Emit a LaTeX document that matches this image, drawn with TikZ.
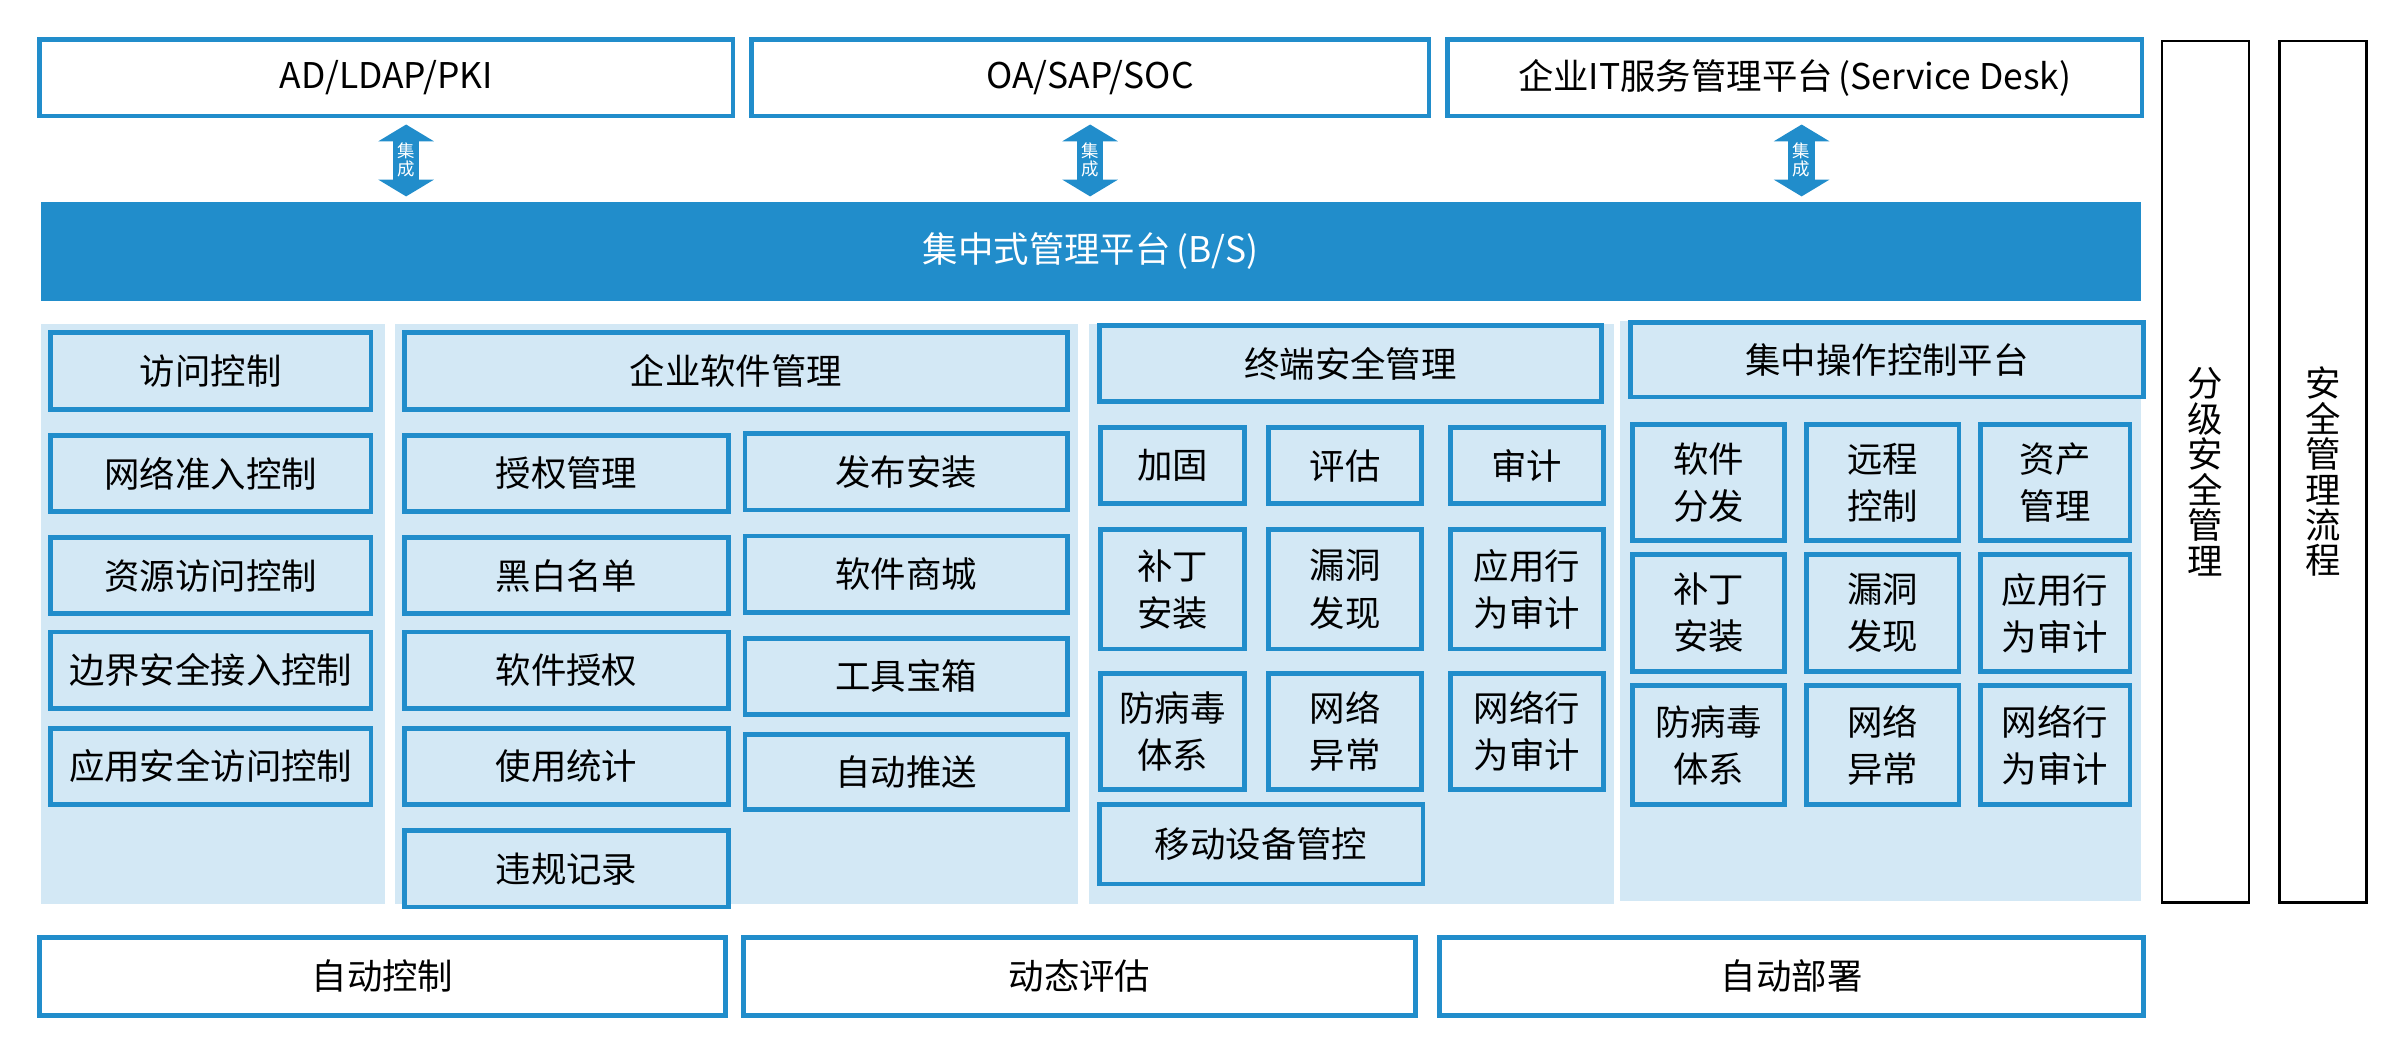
\documentclass[tikz,border=0pt]{standalone}
\usepackage{fontspec}
\setmainfont{Noto Sans CJK SC}
\usetikzlibrary{arrows.meta}
\definecolor{bsblue}{RGB}{33,141,203}
\definecolor{bspale}{RGB}{211,232,245}

\begin{document}
\begin{tikzpicture}[x=0.02cm, y=-0.02cm,
                span/.style args={#1/#2/#3/#4}{at={({(#1+#3)/2},{(#2+#4)/2})},
                    minimum width={(#3-#1)*0.02cm}, minimum height={(#4-#2)*0.02cm}},
                txt/.style={font=\fontsize{13.2}{17.6}\selectfont},
                topbox/.style={txt, draw=bsblue, line width=1.76pt, fill=white, inner sep=0pt},
                cell/.style={txt, draw=bsblue, line width=1.76pt, fill=bspale, inner sep=0pt, align=center},
                panel/.style={fill=bspale, inner sep=0pt},
                sidebox/.style={draw=black, line width=0.9pt, fill=white, inner sep=0pt, align=center,
                    font=\fontsize{13.2}{13.2}\selectfont},
                link/.style={draw=bsblue, line width=0.35cm,
                    {Triangle[width=0.72cm,length=0.22cm]}-{Triangle[width=0.72cm,length=0.22cm]},
                    shorten <=0.08cm, shorten >=0.06cm},
                linktext/.style={text=white, inner sep=0pt, align=center, font=\fontsize{6.5}{6.9}\selectfont}
            ]
            \useasboundingbox (0,0) rectangle (1568,684);

            % systems on top
            \node[topbox, span=26/26/480/76] (ldap) {AD/LDAP/PKI};
            \node[topbox, span=492/26/936/76] (oa) {OA/SAP/SOC};
            \node[topbox, span=948/26/1403/76] (desk) {企业IT服务管理平台\,(Service Desk)};

            % central platform
            \node[fill=bsblue, inner sep=0pt, text=white, txt, span=27/132/1402/197] (bs) {集中式管理平台\,(B/S)};

            \coordinate (c1) at (266,0);
            \coordinate (c2) at (714,0);
            \coordinate (c3) at (1180,0);
            \draw[link] (ldap.south -| c1) -- (bs.north -| c1) node[midway, linktext] {集\\成};
            \draw[link] (oa.south -| c2) -- (bs.north -| c2) node[midway, linktext] {集\\成};
            \draw[link] (desk.south -| c3) -- (bs.north -| c3) node[midway, linktext] {集\\成};

            % side columns
            \node[sidebox, span=1416/27/1473/591] (grade) {分\\级\\安\\全\\管\\理};
            \node[sidebox, span=1493/27/1550/591] (flow) {安\\全\\管\\理\\流\\程};

            % panels
            \node[panel, span=27/212/252/592] (pa) {};
            \node[panel, span=259/212/706/592] (pb) {};
            \node[panel, span=713/212/1057/592] (pc) {};
            \node[panel, span=1061/210/1402/590] (pd) {};

            % access control
            \node[cell, span=33/218/243/268] (a1) {访问控制};
            \node[cell, span=33/285/243/335] (a2) {网络准入控制};
            \node[cell, span=33/352/243/402] (a3) {资源访问控制};
            \node[cell, span=33/414/243/464] (a4) {边界安全接入控制};
            \node[cell, span=33/477/243/527] (a5) {应用安全访问控制};

            % software management
            \node[cell, span=265/218/699/268] (b0) {企业软件管理};
            \node[cell, span=265/285/477/335] (b1) {授权管理};
            \node[cell, span=265/352/477/402] (b2) {黑白名单};
            \node[cell, span=265/414/477/464] (b3) {软件授权};
            \node[cell, span=265/477/477/527] (b4) {使用统计};
            \node[cell, span=265/544/477/594] (b5) {违规记录};
            \node[cell, span=488/284/699/334] (b6) {发布安装};
            \node[cell, span=488/351/699/401] (b7) {软件商城};
            \node[cell, span=488/418/699/468] (b8) {工具宝箱};
            \node[cell, span=488/481/699/530] (b9) {自动推送};

            % terminal security
            \node[cell, span=720/213/1049/263] (c0) {终端安全管理};
            \node[cell, span=721/280/815/330] (c11) {加固};
            \node[cell, span=831/280/931/330] (c12) {评估};
            \node[cell, span=950/280/1050/330] (c13) {审计};
            \node[cell, span=721/347/815/425] (c21) {补丁\\安装};
            \node[cell, span=831/347/931/425] (c22) {漏洞\\发现};
            \node[cell, span=950/347/1050/425] (c23) {应用行\\为审计};
            \node[cell, span=721/441/815/517] (c31) {防病毒\\体系};
            \node[cell, span=831/441/931/517] (c32) {网络\\异常};
            \node[cell, span=950/441/1050/517] (c33) {网络行\\为审计};
            \node[cell, span=720/527/932/579] (c4) {移动设备管控};

            % central operation
            \node[cell, span=1068/211/1404/260] (d0) {集中操作控制平台};
            \node[cell, span=1069/278/1169/354] (d11) {软件\\分发};
            \node[cell, span=1183/278/1283/354] (d12) {远程\\控制};
            \node[cell, span=1297/278/1395/354] (d13) {资产\\管理};
            \node[cell, span=1069/363/1169/440] (d21) {补丁\\安装};
            \node[cell, span=1183/363/1283/440] (d22) {漏洞\\发现};
            \node[cell, span=1297/363/1395/440] (d23) {应用行\\为审计};
            \node[cell, span=1069/449/1169/527] (d31) {防病毒\\体系};
            \node[cell, span=1183/449/1283/527] (d32) {网络\\异常};
            \node[cell, span=1297/449/1395/527] (d33) {网络行\\为审计};

            % bottom row
            \node[topbox, span=26/614/475/665] (auto) {自动控制};
            \node[topbox, span=487/614/927/665] (eval) {动态评估};
            \node[topbox, span=943/614/1404/665] (deploy) {自动部署};
        \end{tikzpicture}
\end{document}
